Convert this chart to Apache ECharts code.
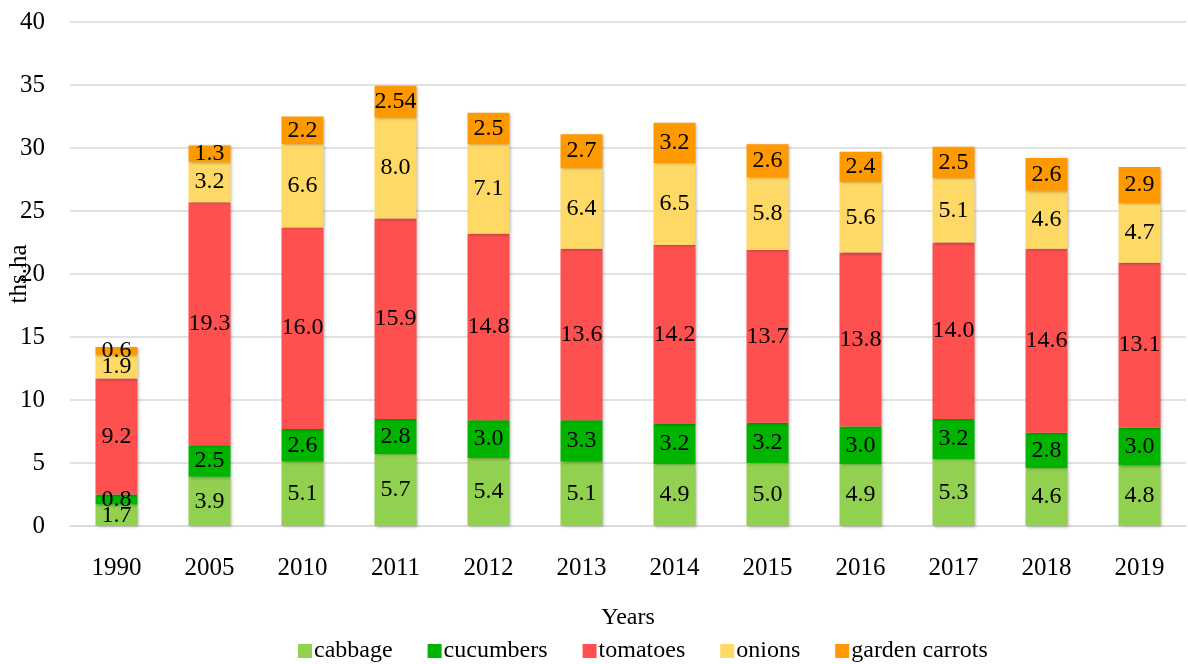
<!DOCTYPE html>
<html>
<head>
<meta charset="utf-8">
<script src="https://cdn.jsdelivr.net/npm/echarts@6/dist/echarts.min.js"></script>
<style>
  html, body { margin: 0; padding: 0; background: #fff; }
  #chart { width: 1188px; height: 664px; }
</style>
</head>
<body>
<div id="chart"></div>
<script>
const years = ['1990', '2005', '2010', '2011', '2012', '2013', '2014', '2015', '2016', '2017', '2018', '2019']
const cabbage = [1.7, 3.9, 5.1, 5.7, 5.4, 5.1, 4.9, 5.0, 4.9, 5.3, 4.6, 4.8]
const cucumbers = [0.8, 2.5, 2.6, 2.8, 3.0, 3.3, 3.2, 3.2, 3.0, 3.2, 2.8, 3.0]
const tomatoes = [9.2, 19.3, 16.0, 15.9, 14.8, 13.6, 14.2, 13.7, 13.8, 14.0, 14.6, 13.1]
const onions = [1.9, 3.2, 6.6, 8.0, 7.1, 6.4, 6.5, 5.8, 5.6, 5.1, 4.6, 4.7]
const carrots = [0.6, 1.3, 2.2, 2.54, 2.5, 2.7, 3.2, 2.6, 2.4, 2.5, 2.6, 2.9]

const FONT = '"Liberation Serif", "Times New Roman", serif'

// one decimal unless the source shows more (2.54)
const fmt = (v) => (Math.abs(v * 10 - Math.round(v * 10)) < 1e-9 ? v.toFixed(1) : String(v))

const makeSeries = (name, data, color) => ({
  name,
  type: 'bar',
  stack: 'total',
  data,
  barWidth: 42,
  itemStyle: {
    color,
    shadowColor: 'rgba(0,0,0,0.3)',
    shadowBlur: 3,
    shadowOffsetX: 1,
    shadowOffsetY: 1
  },
  label: {
    show: true,
    position: 'inside',
    color: '#000',
    fontFamily: FONT,
    fontSize: 24,
    formatter: (p) => fmt(p.value)
  }
})

const chart = echarts.init(document.getElementById('chart'))
chart.setOption({
  animation: false,
  textStyle: { fontFamily: FONT },
  grid: { left: 70, right: 2, top: 22, bottom: 138, outerBoundsMode: 'none', containLabel: false },
  legend: {
    top: 634,
    left: 293,
    itemWidth: 14,
    itemHeight: 14,
    itemGap: 35,
    icon: 'rect',
    textStyle: { fontFamily: FONT, fontSize: 24, color: '#000', padding: [4, 0, 0, -3] },
    data: ['cabbage', 'cucumbers', 'tomatoes', 'onions', 'garden carrots']
  },
  xAxis: {
    type: 'category',
    data: years,
    name: 'Years',
    nameLocation: 'middle',
    nameGap: 80,
    nameMoveOverlap: false,
    nameTextStyle: { fontFamily: FONT, fontSize: 24, color: '#000' },
    axisLine: { lineStyle: { color: '#d9d9d9', width: 1.5 } },
    axisTick: { show: false },
    axisLabel: { fontFamily: FONT, fontSize: 25, color: '#000', margin: 30 }
  },
  yAxis: {
    type: 'value',
    min: 0,
    max: 40,
    interval: 5,
    name: 'ths.ha',
    nameLocation: 'middle',
    nameGap: 38,
    nameRotate: 90,
    nameMoveOverlap: false,
    nameTextStyle: { fontFamily: FONT, fontSize: 25, color: '#000' },
    axisLine: { show: false },
    axisTick: { show: false },
    splitLine: { lineStyle: { color: '#d9d9d9', width: 1.5 } },
    axisLabel: { fontFamily: FONT, fontSize: 25, color: '#000', margin: 25 }
  },
  series: [
    makeSeries('cabbage', cabbage, '#92D050'),
    makeSeries('cucumbers', cucumbers, '#00B400'),
    makeSeries('tomatoes', tomatoes, '#FF5050'),
    makeSeries('onions', onions, '#FFD966'),
    makeSeries('garden carrots', carrots, '#FF9900')
  ]
})
</script>
</body>
</html>
